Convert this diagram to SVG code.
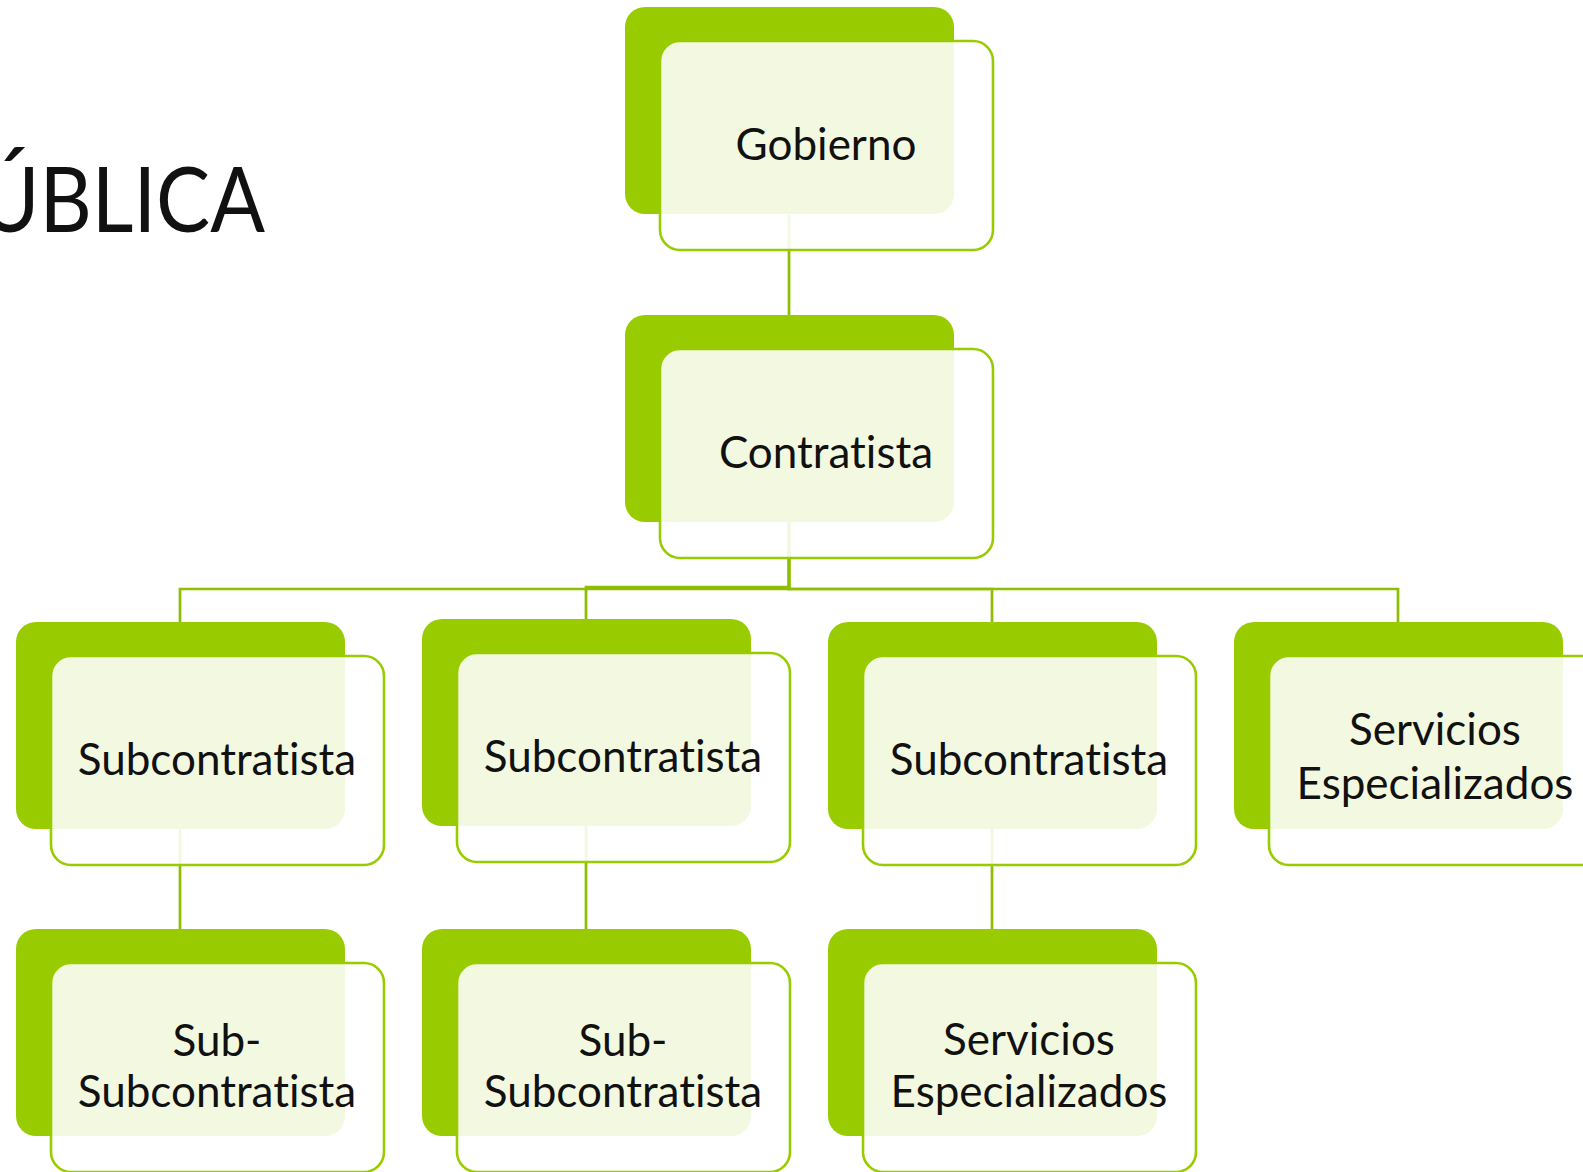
<svg xmlns="http://www.w3.org/2000/svg" width="1583" height="1172" viewBox="0 0 1583 1172">
<style>
.back{fill:#99cc00}
.front{fill:#ffffff;fill-opacity:0.88;stroke:#99cc00;stroke-width:2.6}
.lbl{font-family:Lato,"Open Sans","Liberation Sans",sans-serif;font-size:44px;fill:#111111;text-anchor:middle;font-variant-ligatures:none}
.conn{fill:none;stroke:#8fbe00;stroke-width:2.7}
.title{font-family:Lato,"Open Sans","Liberation Sans",sans-serif;font-size:91px;fill:#111111;text-anchor:end;font-variant-ligatures:none}
</style>
<rect width="1583" height="1172" fill="#ffffff"/>
<text class="title" transform="translate(265,232) scale(0.89,1)" x="0" y="0">ÚBLICA</text>
<g id="connectors">
<path class="conn" d="M789 215 V315"/>
<path class="conn" d="M789 522 V589 H180 V622"/>
<path class="conn" d="M789 522 V587 H586 V619"/>
<path class="conn" d="M789 522 V589 H992 V622"/>
<path class="conn" d="M789 522 V589 H1398 V622"/>
<path class="conn" d="M180 829 V929"/>
<path class="conn" d="M586 826 V929"/>
<path class="conn" d="M992 829 V929"/>
</g>
<g id="gobierno">
<rect class="back" x="625" y="7" width="329" height="207" rx="20"/>
<rect class="front" x="660" y="41" width="333" height="209" rx="20"/>
<text class="lbl" x="826" y="160">Gobierno</text>
</g>
<g id="contratista">
<rect class="back" x="625" y="315" width="329" height="207" rx="20"/>
<rect class="front" x="660" y="349" width="333" height="209" rx="20"/>
<text class="lbl" x="826" y="468">Contratista</text>
</g>
<g id="subcontratista1">
<rect class="back" x="16" y="622" width="329" height="207" rx="20"/>
<rect class="front" x="51" y="656" width="333" height="209" rx="20"/>
<text class="lbl" x="217" y="775">Subcontratista</text>
</g>
<g id="subcontratista2">
<rect class="back" x="422" y="619" width="329" height="207" rx="20"/>
<rect class="front" x="457" y="653" width="333" height="209" rx="20"/>
<text class="lbl" x="623" y="772">Subcontratista</text>
</g>
<g id="subcontratista3">
<rect class="back" x="828" y="622" width="329" height="207" rx="20"/>
<rect class="front" x="863" y="656" width="333" height="209" rx="20"/>
<text class="lbl" x="1029" y="775">Subcontratista</text>
</g>
<g id="servicios1">
<rect class="back" x="1234" y="622" width="329" height="207" rx="20"/>
<rect class="front" x="1269" y="656" width="333" height="209" rx="20"/>
<text class="lbl" x="1435" y="745">Servicios</text>
<text class="lbl" x="1435" y="799">Especializados</text>
</g>
<g id="subsub1">
<rect class="back" x="16" y="929" width="329" height="207" rx="20"/>
<rect class="front" x="51" y="963" width="333" height="209" rx="20"/>
<text class="lbl" x="217" y="1056">Sub-</text>
<text class="lbl" x="217" y="1107">Subcontratista</text>
</g>
<g id="subsub2">
<rect class="back" x="422" y="929" width="329" height="207" rx="20"/>
<rect class="front" x="457" y="963" width="333" height="209" rx="20"/>
<text class="lbl" x="623" y="1056">Sub-</text>
<text class="lbl" x="623" y="1107">Subcontratista</text>
</g>
<g id="servicios2">
<rect class="back" x="828" y="929" width="329" height="207" rx="20"/>
<rect class="front" x="863" y="963" width="333" height="209" rx="20"/>
<text class="lbl" x="1029" y="1055">Servicios</text>
<text class="lbl" x="1029" y="1107">Especializados</text>
</g>
</svg>
